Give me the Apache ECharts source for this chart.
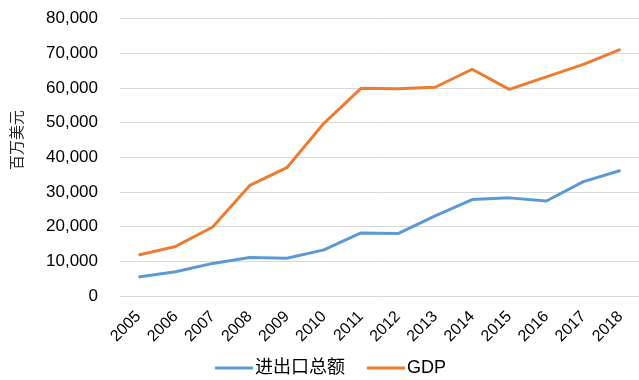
<!DOCTYPE html>
<html>
<head>
<meta charset="utf-8">
<script src="https://cdn.jsdelivr.net/npm/echarts@6/dist/echarts.min.js"></script>
<style>
  html, body { margin: 0; padding: 0; background: #fff; }
  #chart { width: 639px; height: 380px; }
</style>
</head>
<body>
<div id="chart"></div>
<script>
// Years on the category axis
const years = ['2005','2006','2007','2008','2009','2010','2011','2012','2013','2014','2015','2016','2017','2018'];
// Total imports and exports (million USD)
const tradeTotal = [5500, 7000, 9400, 11100, 10900, 13300, 18200, 18000, 23100, 27800, 28300, 27400, 33000, 36200];
// GDP (million USD)
const gdp = [11800, 14300, 19900, 31900, 37000, 49800, 59900, 59800, 60200, 65400, 59600, 63200, 66800, 71100];
// Series names shown in the legend
const seriesNames = ['进出口总额', 'GDP'];
const yAxisTitle = '百万美元';

const chart = echarts.init(document.getElementById('chart'), null, { renderer: 'canvas' });
const latin = 'Arial, "Liberation Sans", sans-serif';
const cjk = '"Noto Sans CJK SC", sans-serif';

chart.setOption({
  animation: false,
  backgroundColor: '#ffffff',
  // plot area runs slightly past the right edge of the canvas
  grid: { left: 120, right: -5, top: 18.6, bottom: 84, containLabel: false },
  xAxis: {
    type: 'category',
    data: years,
    boundaryGap: true,
    axisLine: { show: true, lineStyle: { color: '#d9d9d9', width: 1 } },
    axisTick: { show: false },
    axisLabel: {
      rotate: 45, fontSize: 16, color: '#000000', fontFamily: latin, margin: 18, interval: 0
    }
  },
  yAxis: {
    type: 'value',
    min: 0, max: 80000, interval: 10000,
    axisLine: { show: false },
    axisTick: { show: false },
    splitLine: { lineStyle: { color: '#d9d9d9', width: 1 } },
    axisLabel: {
      fontSize: 17, color: '#000000', fontFamily: latin, margin: 22,
      formatter: v => v.toLocaleString('en-US')
    }
  },
  graphic: [{
    type: 'text',
    left: 9, top: 110,
    rotation: Math.PI / 2,
    style: {
      text: yAxisTitle, font: '15px ' + cjk, fill: '#262626'
    }
  }],
  legend: {
    top: 359,
    left: 215,
    padding: 0,
    itemWidth: 38, itemHeight: 3, itemGap: 22,
    icon: 'rect',
    textStyle: { fontSize: 18, color: '#000000', fontFamily: latin + ',' + cjk, padding: [0, 0, 0, -3] },
    data: seriesNames
  },
  series: [
    {
      name: seriesNames[0], type: 'line', data: tradeTotal,
      symbol: 'none', lineStyle: { color: '#5b9bd5', width: 3 }, itemStyle: { color: '#5b9bd5' }
    },
    {
      name: seriesNames[1], type: 'line', data: gdp,
      symbol: 'none', lineStyle: { color: '#ed7d31', width: 3 }, itemStyle: { color: '#ed7d31' }
    }
  ]
});
</script>
</body>
</html>
